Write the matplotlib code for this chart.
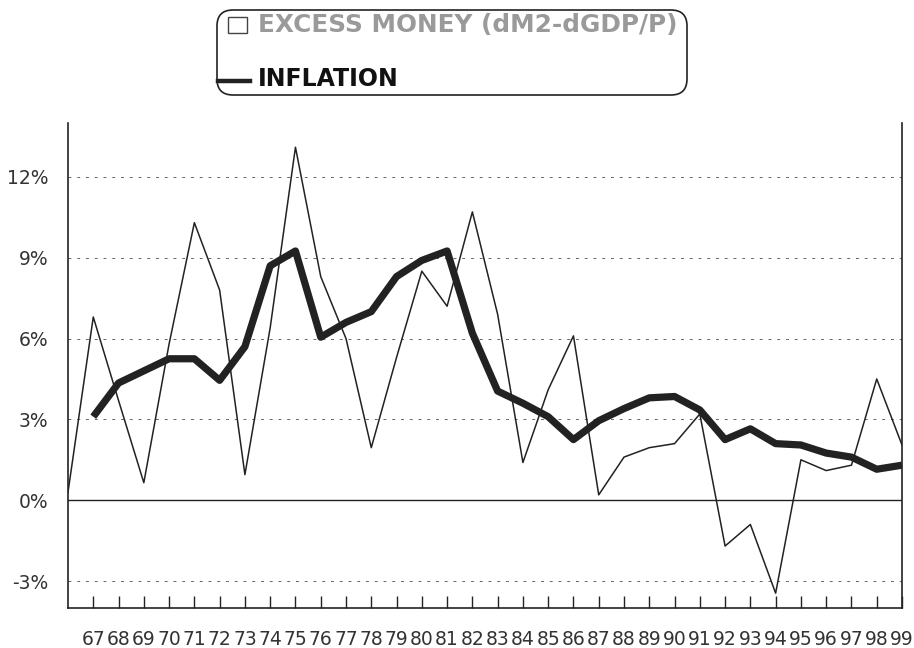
import matplotlib
matplotlib.use("Agg")
import matplotlib.pyplot as plt
from matplotlib.patches import FancyBboxPatch, Rectangle
from matplotlib.lines import Line2D

# excess money starts one year earlier than inflation
years_money = [66, 67, 68, 69, 70, 71, 72, 73, 74, 75, 76, 77, 78, 79, 80, 81, 82,
               83, 84, 85, 86, 87, 88, 89, 90, 91, 92, 93, 94, 95, 96, 97, 98, 99]
excess_money = [0.3, 6.8, 3.7, 0.65, 5.8, 10.3, 7.8, 0.95, 6.4, 13.1, 8.3, 6.0,
                1.95, 5.3, 8.5, 7.2, 10.7, 6.9, 1.4, 4.1, 6.1, 0.2, 1.6, 1.95,
                2.1, 3.2, -1.7, -0.9, -3.45, 1.5, 1.1, 1.3, 4.5, 2.05]

years_infl = [67, 68, 69, 70, 71, 72, 73, 74, 75, 76, 77, 78, 79, 80, 81, 82,
              83, 84, 85, 86, 87, 88, 89, 90, 91, 92, 93, 94, 95, 96, 97, 98, 99]
inflation = [3.1, 4.35, 4.8, 5.25, 5.25, 4.45, 5.7, 8.7, 9.25, 6.05, 6.6, 7.0,
             8.3, 8.9, 9.25, 6.2, 4.05, 3.6, 3.1, 2.25, 2.95, 3.4, 3.8, 3.85,
             3.35, 2.25, 2.65, 2.1, 2.05, 1.75, 1.6, 1.15, 1.3]

yticks = [-3, 0, 3, 6, 9, 12]
legend_labels = ["EXCESS MONEY (dM2-dGDP/P)", "INFLATION"]

W, H = 914, 648
fig = plt.figure(figsize=(W / 100, H / 100), dpi=100)
ax = fig.add_axes([68 / W, 1 - 608 / H, (902 - 68) / W, (608 - 123) / H])

ink = "#222222"
for y in yticks:
    if y == 0:
        ax.axhline(y, color=ink, lw=1.0, zorder=1)
    else:
        ax.axhline(y, color="#666666", lw=0.7, dashes=(3, 6), zorder=1)

ax.plot(years_money, excess_money, color=ink, lw=1.1, zorder=3)
ax.plot(years_infl, inflation, color=ink, lw=5.2, solid_joinstyle="round",
        solid_capstyle="butt", zorder=4)

ax.set_xlim(66, 99)
ax.set_ylim(-4, 14)
ax.set_yticks(yticks)
ax.set_yticklabels(["%d%%" % v for v in yticks])
ax.set_xticks(years_infl)
ax.set_xticklabels(["%d" % v for v in years_infl])

ax.tick_params(axis="y", length=0, pad=14, labelsize=13.5, labelcolor="#333333")
ax.tick_params(axis="x", direction="in", length=9, width=1, color=ink,
               pad=16, labelsize=13.5, labelcolor="#333333")

ax.spines["top"].set_visible(False)
for s in ["left", "right", "bottom"]:
    ax.spines[s].set_color(ink)
    ax.spines[s].set_linewidth(1.2)

# legend drawn by hand, pixel coords -> inches
def px(x, y):
    return x / 100, (H - y) / 100

tr = fig.dpi_scale_trans
x0, y0 = px(217, 95)
box = FancyBboxPatch((x0, y0), (687 - 217) / 100, (95 - 10) / 100,
                     boxstyle="round,pad=0,rounding_size=0.16",
                     transform=tr, fc="white", ec=ink, lw=1.2)
fig.patches.append(box)
sx, sy = px(228, 33)
fig.patches.append(Rectangle((sx, sy), 0.19, 0.16, transform=tr,
                             fc="white", ec="#444444", lw=1.0))
lx0, ly = px(218, 81)
lx1, _ = px(250, 81)
fig.lines.append(Line2D([lx0, lx1], [ly, ly], transform=tr, color=ink, lw=3.2))
tx, ty = px(258, 25)
fig.text(tx, ty, legend_labels[0], transform=tr, fontsize=17.8, fontweight="bold",
         color="#9a9a9a", va="center", ha="left")
tx, ty = px(258, 79)
fig.text(tx, ty, legend_labels[1], transform=tr, fontsize=17, fontweight="bold",
         color="#111111", va="center", ha="left")

fig.savefig("out.png", dpi=100)
